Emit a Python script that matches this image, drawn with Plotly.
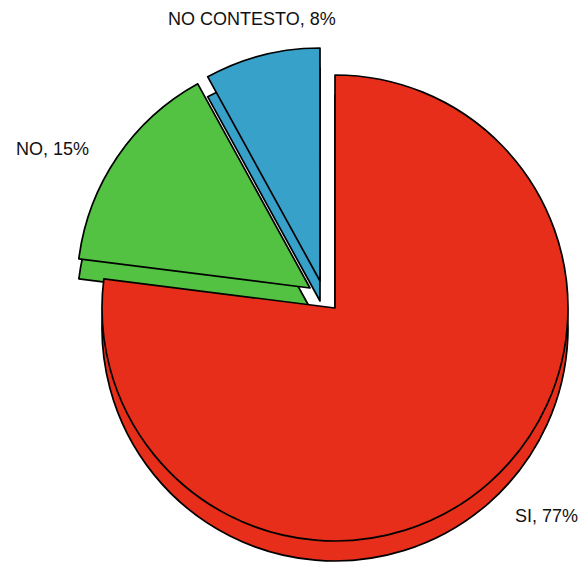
import plotly.graph_objects as go

# ---- data ----
labels = ["SI", "NO", "NO CONTESTO"]
values = [77, 15, 8]
colors = ["#E62E1A", "#53C243", "#38A1C9"]

# ---- layout / styling (pixels) ----
W, H = 581, 567
R = 233            # pie radius in px
DEPTH = 20         # 3D thickness in px
# front-face centre of each slice (exploded slices are offset)
centers = [(335, 308), (310, 288), (320, 281)]
# label positions (px, centre of text)
label_pos = [(546, 516), (52, 149), (252, 19)]

def domain(cx, cy, r):
    return dict(x=[(cx - r) / W, (cx + r) / W],
                y=[1 - (cy + r) / H, 1 - (cy - r) / H])

fig = go.Figure()

# back (side) faces first, then front faces
for layer in ("back", "front"):
    for k, (cx, cy) in enumerate(centers):
        if layer == "back":
            cy = cy + DEPTH
        cols = [colors[i] if i == k else "rgba(0,0,0,0)" for i in range(len(values))]
        lw = [1.7 if i == k else 0 for i in range(len(values))]
        fig.add_trace(go.Pie(
            labels=labels, values=values, sort=False,
            direction="clockwise", rotation=0,
            marker=dict(colors=cols, line=dict(color="black", width=lw)),
            textinfo="none",
            domain=domain(cx, cy, R),
            showlegend=False, hoverinfo="skip",
        ))

total = sum(values)
for (lx, ly), lab, v in zip(label_pos, labels, values):
    fig.add_annotation(
        x=lx / W, y=1 - ly / H, xref="paper", yref="paper",
        text=f"{lab}, {round(100 * v / total)}%",
        showarrow=False, xanchor="center", yanchor="middle",
        font=dict(family="Liberation Sans, Arial, sans-serif", size=18, color="#111111"),
    )

fig.update_layout(
    width=W, height=H,
    margin=dict(l=0, r=0, t=0, b=0),
    paper_bgcolor="white", plot_bgcolor="white",
    font=dict(family="Liberation Sans, Arial, sans-serif", size=18, color="#111111"),
)

fig.write_html("out.html", config={"displayModeBar": False},
               post_script="document.body.style.margin='0';")
